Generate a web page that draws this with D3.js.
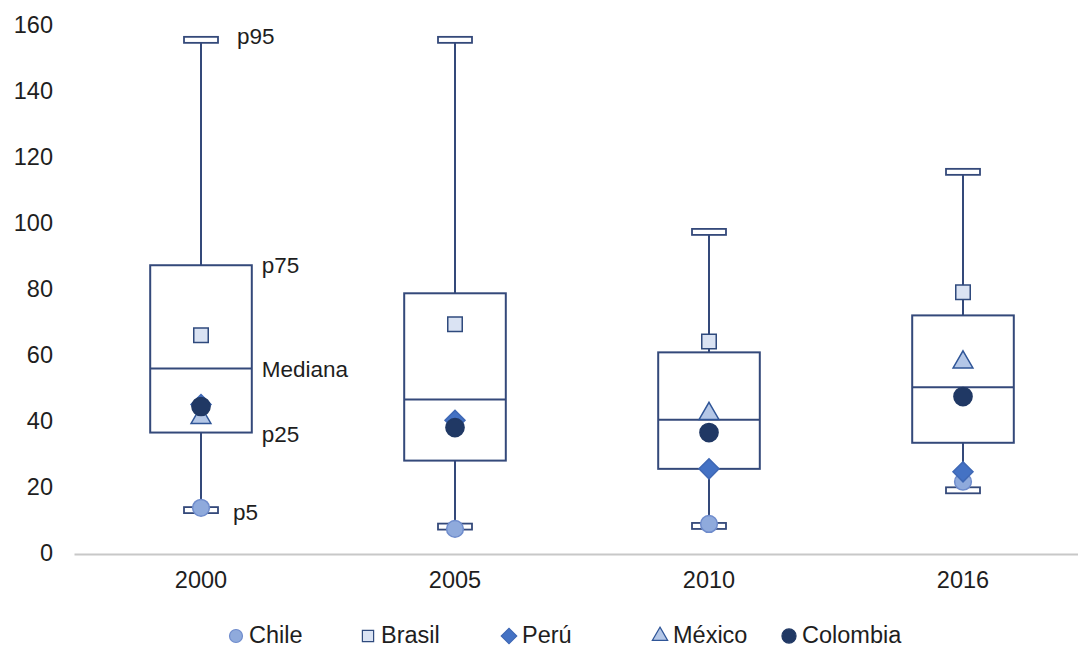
<!DOCTYPE html>
<html><head><meta charset="utf-8">
<script src="https://cdn.jsdelivr.net/npm/d3@7"></script>
<style>body{margin:0;background:#fff;font-family:"Liberation Sans",Arial,sans-serif;}</style>
</head><body><svg id="c" width="1078" height="650"></svg>
<script>
const years = ["2000","2005","2010","2016"];
const p5 = [13, 8, 8.2, 19];
const p25 = [36.5, 28, 25.5, 33.4];
const median = [55.9, 46.5, 40.4, 50.2];
const p75 = [87.2, 78.7, 60.8, 72];
const p95 = [155.5, 155.5, 97.3, 115.5];
const chile = [13.7, 7.3, 8.8, 21.6];
const brasil = [66, 69.3, 64.1, 79];
const peru = [45, 40.2, 25.5, 24.6];
const mexico = [41, null, 42.2, 57.8];
const colombia = [44.4, 38, 36.5, 47.4];
const yTicks = [0,20,40,60,80,100,120,140,160];
const seriesNames = ["Chile","Brasil","Perú","México","Colombia"];

const svg = d3.select("#c");
const x = d3.scaleBand().domain(years).range([74, 1090]);
const y = d3.scaleLinear().domain([0,160]).range([553, 25]);
const navy = "#34497a";
const txt = "#1e1e1e";
const styles = {
  "Chile": {shape: d3.symbolCircle, fill: "#8faadc", stroke: "#6f8ccc", size: 220, rot: 0},
  "Brasil": {shape: d3.symbolSquare, fill: "#dae3f3", stroke: "#2f4a7d", size: 210, rot: 0},
  "Perú": {shape: d3.symbolSquare, fill: "#4472c4", stroke: "#3f68b5", size: 200, rot: 45},
  "México": {shape: d3.symbolTriangle, fill: "#b4c7e7", stroke: "#2f5597", size: 170, rot: 0},
  "Colombia": {shape: d3.symbolCircle, fill: "#203864", stroke: "#203864", size: 260, rot: 0}
};
const seriesData = {"Chile": chile, "Brasil": brasil, "Perú": peru, "México": mexico, "Colombia": colombia};

// y axis labels
const ya = svg.append("g").attr("transform","translate(53,0)")
  .call(d3.axisLeft(y).tickValues(yTicks).tickSize(0).tickPadding(0));
ya.select(".domain").remove();
ya.selectAll("text").attr("font-size","23.5px").attr("fill",txt).attr("font-family","Liberation Sans, Arial");

// x axis
const xa = svg.append("g").attr("transform","translate(0,554)")
  .call(d3.axisBottom(x).tickSize(0).tickPadding(17));
xa.select(".domain").attr("stroke","#c8c8c8").attr("stroke-width",2);
xa.selectAll("text").attr("font-size","23.5px").attr("fill",txt).attr("font-family","Liberation Sans, Arial");

const bw = x.bandwidth()*0.4;
const g = svg.append("g");
years.forEach((yr,i) => {
  const cx = x(yr) + x.bandwidth()/2;
  g.append("line").attr("x1",cx).attr("x2",cx).attr("y1",y(p75[i])).attr("y2",y(p95[i])).attr("stroke",navy).attr("stroke-width",2);
  g.append("line").attr("x1",cx).attr("x2",cx).attr("y1",y(p25[i])).attr("y2",y(p5[i])).attr("stroke",navy).attr("stroke-width",2);
  g.append("rect").attr("x",cx-bw/2).attr("y",y(p75[i])).attr("width",bw).attr("height",y(p25[i])-y(p75[i]))
    .attr("fill","none").attr("stroke",navy).attr("stroke-width",2);
  g.append("line").attr("x1",cx-bw/2).attr("x2",cx+bw/2).attr("y1",y(median[i])).attr("y2",y(median[i])).attr("stroke",navy).attr("stroke-width",2);
  [p95[i], p5[i]].forEach(v => {
    g.append("rect").attr("x",cx-17).attr("y",y(v)-3).attr("width",34).attr("height",6)
      .attr("fill","#fff").attr("stroke",navy).attr("stroke-width",1.8);
  });
});

// markers
seriesNames.forEach(name => {
  const st = styles[name];
  const sym = d3.symbol().type(st.shape).size(st.size);
  const pts = seriesData[name].map((v,i)=>({v, yr: years[i]})).filter(d=>d.v!=null);
  g.selectAll(null).data(pts).enter().append("path")
    .attr("d", sym)
    .attr("transform",d=>`translate(${x(d.yr)+x.bandwidth()/2},${y(d.v)}) rotate(${st.rot})`)
    .attr("fill",st.fill).attr("stroke",st.stroke).attr("stroke-width",1.5);
});

// annotations
const cx0 = x(years[0]) + x.bandwidth()/2;
const ann = [
  {t:"p95", v:p95[0], dx:36, oy:-4},
  {t:"p75", v:p75[0], dx:bw/2+10, oy:0},
  {t:"Mediana", v:median[0], dx:bw/2+10, oy:1},
  {t:"p25", v:p25[0], dx:bw/2+10, oy:2},
  {t:"p5", v:p5[0], dx:32, oy:2}
];
svg.selectAll(null).data(ann).enter().append("text")
  .attr("x", d=>cx0+d.dx).attr("y", d=>y(d.v)+d.oy)
  .attr("dy","0.35em").attr("font-size","22.5px").attr("fill",txt)
  .attr("font-family","Liberation Sans, Arial").text(d=>d.t);

// legend
const legX = [236, 368, 509, 660, 789];
const lg = svg.append("g");
seriesNames.forEach((name,i) => {
  const st = styles[name];
  lg.append("path").attr("d", d3.symbol().type(st.shape).size(st.size*0.6)())
    .attr("transform",`translate(${legX[i]},636) rotate(${st.rot})`)
    .attr("fill",st.fill).attr("stroke",st.stroke).attr("stroke-width",1.2);
  lg.append("text").attr("x",legX[i]+13).attr("y",635).attr("dy","0.35em")
    .attr("font-size","23.5px").attr("fill",txt).attr("font-family","Liberation Sans, Arial").text(name);
});
</script></body></html>
